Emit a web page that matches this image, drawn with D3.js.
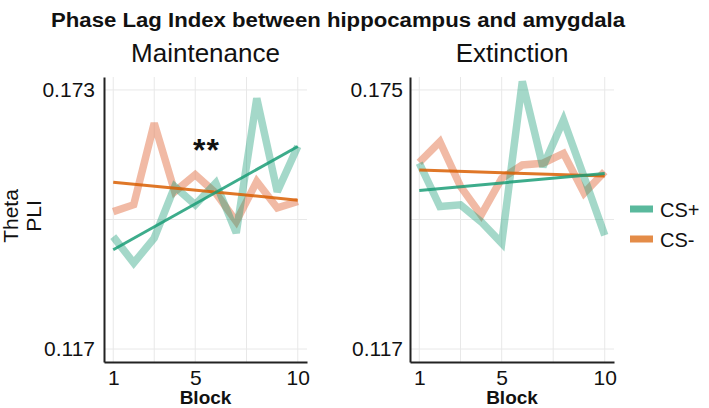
<!DOCTYPE html>
<html><head><meta charset="utf-8">
<script src="https://cdn.jsdelivr.net/npm/d3@7"></script>
<style>body{margin:0;background:#fff}svg{display:block}text{font-family:"Liberation Sans",Arial,sans-serif;fill:#111}</style>
</head><body>
<script>
const blocks = [1,2,3,4,5,6,7,8,9,10];
const maintCSplus  = [0.1413,0.1356,0.1410,0.1521,0.1482,0.1529,0.1421,0.1712,0.1510,0.1608];
const maintCSminus = [0.1467,0.1482,0.1658,0.1510,0.1547,0.1507,0.1446,0.1532,0.1475,0.1489];
const extCSplus    = [0.1586,0.1489,0.1493,0.1455,0.1407,0.1769,0.1578,0.1683,0.1555,0.1425];
const extCSminus   = [0.1588,0.1634,0.1534,0.1470,0.1552,0.1582,0.1586,0.1608,0.1519,0.1567];
const xTicks = [1,5,10];
const xGrid = [1,3,5,7.5,10];
const maintYTicks = [0.117,0.173];
const extYTicks = [0.117,0.175];
const seriesNames = ["CS+","CS-"];
const colors = {"CS+":"#1B9E77","CS-":"#D95F02"};
const rawColors = {"CS+":"#1B9E77","CS-":"#E4764C"};

const W=709,H=408;
const svg=d3.select("body").append("svg").attr("width",W).attr("height",H);

svg.append("text").attr("x",338).attr("y",27).attr("text-anchor","middle")
  .style("font-weight","bold").style("font-size","20px")
  .attr("textLength",574).attr("lengthAdjust","spacingAndGlyphs")
  .text("Phase Lag Index between hippocampus and amygdala");

function regress(xs,ys){
  const mx=d3.mean(xs),my=d3.mean(ys);
  let sxy=0,sxx=0;
  xs.forEach((x,i)=>{sxy+=(x-mx)*(ys[i]-my);sxx+=(x-mx)*(x-mx);});
  const b=sxy/sxx,a=my-b*mx;
  return x=>a+b*x;
}

function panel(opt){
  const {x0,x1,title,yTicks,plus,minus,labelGap,stars}=opt;
  const y0=362,y1=77;
  const xe=(10-1)*0.05;
  const x=d3.scaleLinear().domain([1-xe,10+xe]).range([x0,x1]);
  const ye=(yTicks[1]-yTicks[0])*0.05;
  const y=d3.scaleLinear().domain([yTicks[0]-ye,yTicks[1]+ye]).range([y0,y1]);
  const g=svg.append("g");
  const yGrid=[yTicks[0],(yTicks[0]+yTicks[1])/2,yTicks[1]];
  g.selectAll(".vg").data(xGrid).join("line")
    .attr("x1",d=>x(d)).attr("x2",d=>x(d)).attr("y1",y1).attr("y2",y0)
    .attr("stroke","#e8e8e8").attr("stroke-width",1);
  g.selectAll(".hg").data(yGrid).join("line")
    .attr("x1",x0).attr("x2",x1).attr("y1",d=>y(d)).attr("y2",d=>y(d))
    .attr("stroke","#e8e8e8").attr("stroke-width",1);
  const line=d3.line().x((d,i)=>x(blocks[i])).y(d=>y(d));
  [["CS-",minus,0.5],["CS+",plus,0.4]].forEach(([n,vals,op])=>{
    g.append("path").attr("d",line(vals)).attr("fill","none")
      .attr("stroke",rawColors[n]).attr("stroke-opacity",op).attr("stroke-width",7.5)
      .attr("stroke-linejoin","miter").attr("stroke-miterlimit",3);
  });
  [["CS-",minus],["CS+",plus]].forEach(([n,vals])=>{
    const f=regress(blocks,vals);
    g.append("line").attr("x1",x(1)).attr("x2",x(10)).attr("y1",y(f(1))).attr("y2",y(f(10)))
      .attr("stroke",colors[n]).attr("stroke-opacity",0.85).attr("stroke-width",3);
  });
  const ax=g.append("g").attr("transform",`translate(0,${y0})`)
    .call(d3.axisBottom(x).tickValues(xTicks).tickSize(0).tickPadding(8).tickFormat(d3.format("d")));
  ax.select(".domain").attr("stroke","#222").attr("stroke-width",2);
  ax.selectAll("text").style("font-size","21px").attr("fill","#111");
  const ay=g.append("g").attr("transform",`translate(${x0},0)`)
    .call(d3.axisLeft(y).tickValues(yTicks).tickSize(0).tickPadding(labelGap).tickFormat(d3.format(".3f")));
  ay.select(".domain").attr("stroke","#222").attr("stroke-width",2);
  ay.selectAll("text").style("font-size","21px").attr("fill","#111");
  g.append("text").attr("x",(x0+x1)/2).attr("y",62).attr("text-anchor","middle")
    .style("font-size","26px").text(title);
  g.append("text").attr("x",x(5.5)).attr("y",404).attr("text-anchor","middle")
    .style("font-size","19px").style("font-weight","bold").text("Block");
  if(stars){
    g.append("text").attr("x",x(stars[0])).attr("y",y(stars[1])).attr("text-anchor","middle")
      .attr("dy","0.44em").style("font-size","32px").style("font-weight","bold")
      .style("letter-spacing","1px").text("**");
  }
}

panel({x0:104,x1:307,title:"Maintenance",yTicks:maintYTicks,plus:maintCSplus,minus:maintCSminus,labelGap:9,stars:[5.55,0.1607]});
panel({x0:410,x1:614,title:"Extinction",yTicks:extYTicks,plus:extCSplus,minus:extCSminus,labelGap:7});

const yl=svg.append("text").attr("transform","translate(18,216) rotate(-90)").attr("text-anchor","middle").style("font-size","21px");
yl.append("tspan").attr("x",0).attr("y",0).text("Theta");
yl.append("tspan").attr("x",0).attr("y",23).text("PLI");

const lg=svg.append("g");
seriesNames.forEach((n,i)=>{
  const cy=209+i*30;
  lg.append("rect").attr("x",630).attr("y",cy-3.5).attr("width",23).attr("height",7)
    .attr("fill",colors[n]).attr("opacity",0.72);
  lg.append("text").attr("x",660).attr("y",cy+8).style("font-size","20px").text(n);
});
</script>
</body></html>
